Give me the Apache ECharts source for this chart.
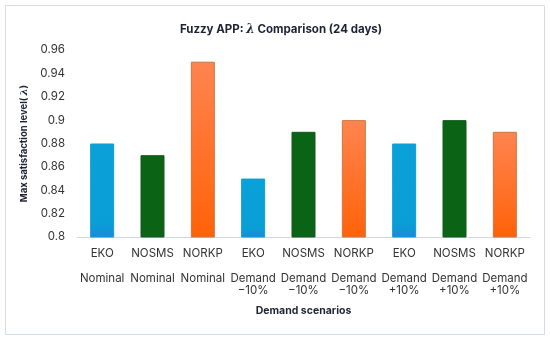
<!DOCTYPE html>
<html><head><meta charset="utf-8">
<script src="https://cdn.jsdelivr.net/npm/echarts@6/dist/echarts.min.js"></script>
<style>html,body{margin:0;padding:0;background:#fff}#c{width:550px;height:341px}</style>
</head><body><div id="c"></div>
<script>
const models = ["EKO","NOSMS","NORKP","EKO","NOSMS","NORKP","EKO","NOSMS","NORKP"];
const scenarios = ["Nominal","Nominal","Nominal","Demand\n−10%","Demand\n−10%","Demand\n−10%","Demand\n+10%","Demand\n+10%","Demand\n+10%"];
const lambdaValues = [0.88,0.87,0.95,0.85,0.89,0.90,0.88,0.90,0.89];
const yTicks = [0.8,0.82,0.84,0.86,0.88,0.9,0.92,0.94,0.96];

const FONT = "Inter, 'Open Sans', sans-serif";
const colorMap = {
  EKO: new echarts.graphic.LinearGradient(0,0,0,1,[{offset:0,color:'#0aa0d8'},{offset:0.85,color:'#0a9ed6'},{offset:1,color:'#1a8ad8'}]),
  NOSMS: '#0b6316',
  NORKP: new echarts.graphic.LinearGradient(0,0,0,1,[{offset:0,color:'#ff8450'},{offset:1,color:'#ff6208'}])
};
const borderMap = {EKO:'#0a9ed6', NOSMS:'#155a1a', NORKP:'#c9783e'};
const cats = models.map((m,i)=>m+"\n\n"+scenarios[i]);
const TXT = '#1e2235';

const chart = echarts.init(document.getElementById('c'));
chart.setOption({
  animation:false,
  backgroundColor:'#fff',
  graphic:[{type:'rect',shape:{x:5.5,y:5.5,width:539,height:329},style:{fill:'none',stroke:'#d6d9ef',lineWidth:1},z:-1}],
  title:{text:'{n|Fuzzy APP: }{l|λ}{n| Comparison (24 days)}',left:276,top:19,textAlign:'center',
    textStyle:{fontFamily:FONT,fontSize:11.5,fontWeight:'bold',color:TXT,
      rich:{n:{fontFamily:FONT,fontSize:11.5,fontWeight:'bold',color:TXT},
            l:{fontFamily:"'DejaVu Serif', serif",fontSize:12,fontStyle:'italic',fontWeight:'bold',color:TXT}}}},
  grid:{left:77,right:20,top:50,bottom:104},
  xAxis:{type:'category',data:cats,
    name:'Demand scenarios',nameLocation:'middle',nameGap:68,
    nameTextStyle:{fontFamily:FONT,fontSize:10.5,fontWeight:'bold',color:TXT},
    axisLine:{lineStyle:{color:'#d0d4ee'}},
    axisTick:{length:63,lineStyle:{color:'#d0d4ee'}},
    axisLabel:{fontFamily:FONT,fontSize:11.5,color:'#333',lineHeight:12.5,margin:10,interval:0}
  },
  yAxis:{type:'value',min:0.8,max:0.96,interval:0.02,
    name:'{n|Max satisfaction level( }{l|λ}{n|)}',nameLocation:'middle',nameGap:44,
    nameTextStyle:{fontFamily:FONT,fontSize:9.5,fontWeight:'bold',color:TXT,
      rich:{n:{fontFamily:FONT,fontSize:9.5,fontWeight:'bold',color:TXT},
            l:{fontFamily:"'DejaVu Serif', serif",fontSize:10,fontStyle:'italic',color:TXT}}},
    axisLine:{show:false},axisTick:{show:false},splitLine:{show:false},
    axisLabel:{fontFamily:FONT,fontSize:11.5,color:'#333',margin:12,
      formatter:v=>String(parseFloat(v.toFixed(2)))}
  },
  series:[{type:'bar',barWidth:24,
    data:lambdaValues.map((v,i)=>({value:v,itemStyle:{color:colorMap[models[i]],borderColor:borderMap[models[i]],borderWidth:1}}))
  }]
});
</script></body></html>
